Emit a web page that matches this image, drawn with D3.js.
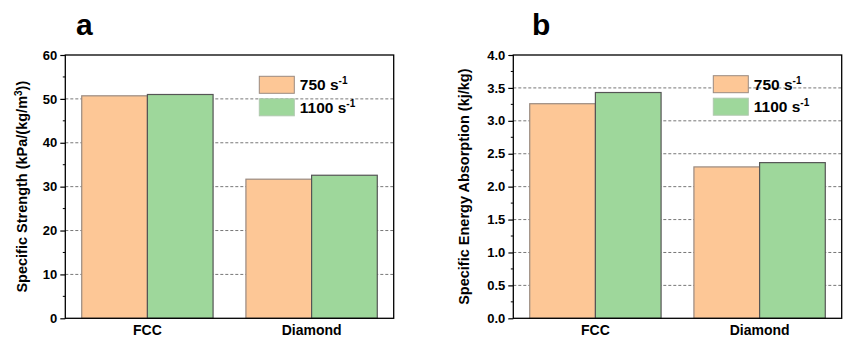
<!DOCTYPE html>
<html>
<head>
<meta charset="utf-8">
<script src="https://cdn.jsdelivr.net/npm/d3@7"></script>
<style>
  body { margin: 0; background: #fff; }
  svg text { font-family: Arial, "Liberation Sans", sans-serif; font-weight: bold; fill: #000; }
</style>
</head>
<body>
<div id="chart"></div>
<script>
const categories = ["FCC", "Diamond"];
const series = ["750", "1100"];
const strength750 = [50.7, 31.7];
const strength1100 = [51.0, 32.6];
const energy750 = [3.26, 2.30];
const energy1100 = [3.43, 2.365];
const strengthTicks = [0, 10, 20, 30, 40, 50, 60];
const energyTicks = [0, 0.5, 1.0, 1.5, 2.0, 2.5, 3.0, 3.5, 4.0];

const fills = ["#fdc796", "#9ed79b"];
const strokes = ["#9a8a80", "#555555"];

const W = 843, H = 337;
const svg = d3.select("#chart").append("svg")
  .attr("width", W).attr("height", H);

function panel(opt) {
  const x0 = opt.left, x1 = opt.left + 328.4, y0 = 55, y1 = 318.3;
  const g = svg.append("g");

  const x = d3.scaleBand().domain(categories).range([x0, x1]).paddingInner(0.2).paddingOuter(0.1);
  const xs = d3.scaleBand().domain(series).range([0, x.bandwidth()]);
  const y = d3.scaleLinear().domain([0, opt.max]).range([y1, y0]);

  // dashed gridlines
  g.append("g").selectAll("line")
    .data(opt.ticks.filter(t => t > 0 && t < opt.max))
    .enter().append("line")
    .attr("x1", x0).attr("x2", x1)
    .attr("y1", d => y(d)).attr("y2", d => y(d))
    .attr("stroke", "#777").attr("stroke-width", 1)
    .attr("stroke-dasharray", "3,2");

  // bars
  const rows = categories.map((c, i) => ({ c, vals: [opt.a[i], opt.b[i]] }));
  g.append("g").selectAll("g")
    .data(rows).enter().append("g")
    .attr("transform", d => "translate(" + x(d.c) + ",0)")
    .selectAll("rect")
    .data(d => d.vals.map((v, j) => ({ v, j })))
    .enter().append("rect")
    .attr("x", d => xs(series[d.j]))
    .attr("width", xs.bandwidth())
    .attr("y", d => y(d.v))
    .attr("height", d => y1 - y(d.v))
    .attr("fill", d => fills[d.j])
    .attr("stroke", d => strokes[d.j])
    .attr("stroke-width", 1.2);

  // frame
  g.append("rect")
    .attr("x", x0).attr("y", y0).attr("width", x1 - x0).attr("height", y1 - y0)
    .attr("fill", "none").attr("stroke", "#000").attr("stroke-width", 1.3);

  // y axis
  const yAxis = g.append("g").attr("transform", "translate(" + x0 + ",0)")
    .call(d3.axisLeft(y).tickValues(opt.ticks).tickFormat(opt.fmt).tickSize(5).tickPadding(3));
  yAxis.select(".domain").remove();
  yAxis.selectAll(".tick line").attr("stroke", "#000").attr("stroke-width", 1.2);
  yAxis.selectAll(".tick text").style("font-size", "13px").style("font-family", "Arial, 'Liberation Sans', sans-serif").style("font-weight", "bold");

  // minor ticks
  const step = opt.ticks[1] - opt.ticks[0];
  g.append("g").selectAll("line")
    .data(opt.ticks.slice(0, -1).map(t => t + step / 2))
    .enter().append("line")
    .attr("x1", x0 - 2.5).attr("x2", x0)
    .attr("y1", d => y(d)).attr("y2", d => y(d))
    .attr("stroke", "#000").attr("stroke-width", 1);

  // x labels
  g.append("g").selectAll("text")
    .data(categories).enter().append("text")
    .attr("x", d => x(d) + x.bandwidth() / 2)
    .attr("y", 335)
    .attr("text-anchor", "middle")
    .style("font-size", "14px")
    .text(d => d);

  // y title
  g.append("text")
    .attr("transform", "translate(" + opt.titleX + "," + ((y0 + y1) / 2) + ") rotate(-90)")
    .attr("text-anchor", "middle")
    .style("font-size", "14.5px")
    .html(opt.title);

  // panel letter
  g.append("text")
    .attr("x", opt.letterX).attr("y", 35)
    .style("font-size", "30px")
    .text(opt.letter);

  // legend
  const leg = g.append("g");
  series.forEach((s, i) => {
    const ly = opt.legY + i * 22.5;
    leg.append("rect")
      .attr("x", opt.legX).attr("y", ly)
      .attr("width", 35).attr("height", 17)
      .attr("fill", fills[i]).attr("stroke", i === 0 ? "#9a8a80" : "#b0c8ae").attr("stroke-width", 1);
    const t = leg.append("text")
      .attr("x", opt.legX + 40.5).attr("y", ly + 14)
      .style("font-size", "15.5px");
    t.append("tspan").text(s + " s");
    t.append("tspan").attr("dy", -6).style("font-size", "10px").text("-1");
  });
}

panel({
  left: 65.3, max: 60, ticks: strengthTicks, fmt: d3.format("d"),
  a: strength750, b: strength1100,
  title: 'Specific Strength (kPa/(kg/m<tspan dy="-5" font-size="10px">3</tspan><tspan dy="5">))</tspan>',
  titleX: 27, letter: "a", letterX: 76,
  legX: 259.3, legY: 76.3
});

panel({
  left: 513.3, max: 4, ticks: energyTicks, fmt: d3.format(".1f"),
  a: energy750, b: energy1100,
  title: "Specific Energy Absorption (kj/kg)",
  titleX: 468.5, letter: "b", letterX: 532,
  legX: 713.3, legY: 75.7
});
</script>
</body>
</html>
